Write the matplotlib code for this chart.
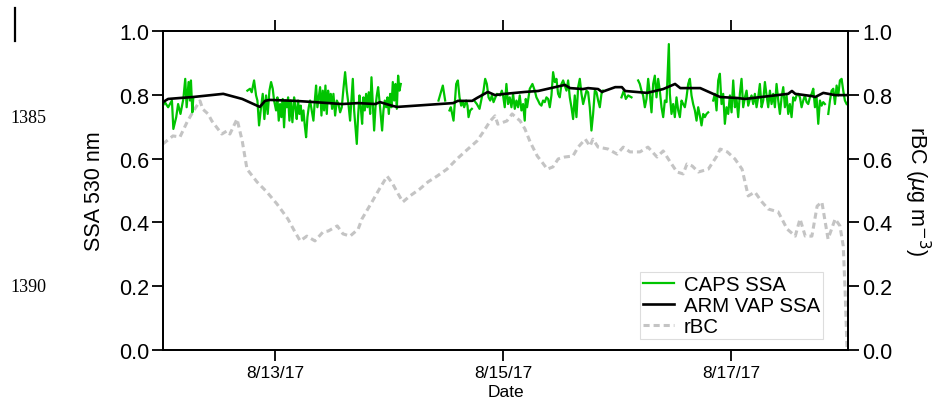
import numpy as np
import pandas as pd
import matplotlib
matplotlib.use('Agg')
import matplotlib.pyplot as plt
from matplotlib.lines import Line2D
from matplotlib.ticker import FuncFormatter, FixedLocator
import matplotlib.dates as mdates

# hours since 2017-08-12 00:00
# rBC (ug m-3), right axis
rbc_h = [0.4, 2.5, 4.0, 5.5, 6.7, 8.2, 8.8, 9.9, 10.7, 12.8, 13.9, 14.5, 16.0, 17.1, 18.1,
         20.2, 22.3, 24.4, 26.7, 28.2, 29.3, 30.7, 32.4, 34.1, 35.2, 37.1, 38.3, 39.8, 41.5,
         42.3, 44.4, 45.7, 47.6, 48.8, 49.7, 50.9, 52.4, 54.5, 56.2, 58.1, 60.2, 62.3, 64.6,
         66.5, 67.8, 69.3, 70.3, 70.9, 72.8, 73.9, 75.6, 76.6, 77.7, 79.2, 80.2, 81.3, 82.5,
         83.6, 85.0, 86.7, 87.8, 89.3, 90.3, 90.9, 92.0, 94.1, 96.0, 97.3, 98.7, 100.8, 102.5,
         104.4, 105.7, 107.2, 108.6, 109.9, 110.7, 111.8, 113.1, 115.2, 117.0, 117.7, 119.2,
         120.8, 122.3, 123.6, 125.0, 126.5, 127.8, 129.9, 131.8, 133.5, 134.5, 135.6, 137.0,
         138.1, 139.1, 140.4, 141.9, 142.9, 143.6, 144.0, 144.4]
rbc_v = [0.646, 0.671, 0.668, 0.715, 0.746, 0.781, 0.755, 0.740, 0.718, 0.677, 0.687, 0.677,
         0.724, 0.655, 0.567, 0.527, 0.495, 0.458, 0.411, 0.370, 0.342, 0.357, 0.342, 0.370,
         0.373, 0.389, 0.364, 0.357, 0.379, 0.411, 0.464, 0.498, 0.545, 0.520, 0.495, 0.464,
         0.483, 0.505, 0.527, 0.545, 0.567, 0.599, 0.630, 0.655, 0.683, 0.718, 0.734, 0.708,
         0.718, 0.740, 0.718, 0.693, 0.652, 0.608, 0.589, 0.567, 0.574, 0.599, 0.605, 0.608,
         0.636, 0.661, 0.639, 0.661, 0.636, 0.630, 0.614, 0.636, 0.621, 0.621, 0.636, 0.605,
         0.624, 0.589, 0.558, 0.552, 0.583, 0.577, 0.558, 0.567, 0.608, 0.630, 0.621, 0.599,
         0.567, 0.483, 0.495, 0.464, 0.442, 0.433, 0.379, 0.357, 0.411, 0.357, 0.357, 0.451,
         0.464, 0.348, 0.411, 0.389, 0.326, 0.182, 0.0]

# ARM VAP SSA
arm_h = [0.4, 1.5, 4.0, 6.7, 13.1, 17.1, 20.8, 21.9, 22.9, 28.2, 32.4, 38.1, 41.5, 45.1,
         46.1, 48.8, 49.7, 61.5, 62.5, 65.5, 66.5, 68.8, 70.3, 72.4, 76.6, 79.4, 85.0, 86.1,
         88.8, 89.9, 92.0, 92.8, 95.6, 97.0, 97.7, 102.3, 105.7, 108.2, 109.3, 113.5, 117.7,
         121.3, 122.9, 132.0, 132.8, 133.5, 137.0, 137.7, 139.4, 141.9, 144.6]
arm_v = [0.777, 0.787, 0.790, 0.793, 0.803, 0.787, 0.762, 0.781, 0.784, 0.781, 0.777, 0.771,
         0.774, 0.771, 0.777, 0.765, 0.762, 0.774, 0.781, 0.781, 0.790, 0.809, 0.799, 0.803,
         0.809, 0.812, 0.831, 0.821, 0.818, 0.821, 0.818, 0.809, 0.824, 0.824, 0.812, 0.806,
         0.818, 0.834, 0.821, 0.821, 0.793, 0.790, 0.787, 0.803, 0.812, 0.803, 0.796, 0.793,
         0.806, 0.799, 0.799]

# CAPS SSA, gaps as nan
caps_h = [0.4, 0.8, 1.5, 2.3, 2.6, 3.2, 3.6, 4.1, 4.7, 5.1, 5.4, 5.8, 6.1, 6.3, 6.6, 6.8,
          np.nan,
          18.18, 18.74, 19.09, 19.59, 20.01, 20.29, 20.64, 21.06, 21.41, 21.76, 22.11, 22.46,
          22.82, 23.17, 23.52, 23.80, 24.22, 24.50, 24.78, 25.06, 25.34, 25.62, 25.90, 26.18,
          26.47, 26.75, 27.03, 27.31, 27.66, 28.01, 28.29, 28.57, 28.85, 29.13, 29.41, 29.69,
          29.98, 30.26, 30.54, 30.82, 31.10, 31.38, 31.73, 32.08, 32.43, 32.64, 32.92, 33.21,
          33.49, 33.77, 34.05, 34.33, 34.61, 34.89, 35.17, 35.45, 35.73, 36.01, 36.29, 36.65,
          37.00, 37.35, 37.70, 38.05, 38.40, 38.75, 39.10, 39.45, 39.80, 40.08, 40.37, 40.65,
          40.93, 41.21, 41.49, 41.77, 42.05, 42.33, 42.61, 42.89, 43.17, 43.45, 43.73, 44.02,
          44.30, 44.58, 44.86, 45.14, 45.42, 45.70, 45.98, 46.26, 46.54, 46.82, 47.10, 47.39,
          47.67, 47.95, 48.23, 48.51, 48.79, 49.07, 49.35, 49.63, 49.91, 50.19, 50.47,
          np.nan,
          58.41, 58.90, 59.32, 59.81,
          np.nan,
          60.72, 61.00, 61.57, 62.13, 62.48, 62.83, 63.18, 63.53, 63.81, 64.23, 64.51, 64.73,
          65.08, 65.43,
          np.nan,
          65.92, 66.48, 67.04, 67.53, 67.88, 68.23, 68.58, 68.94, 69.29, 69.64, 69.99, 70.69,
          71.39, 71.74, 72.00, 72.35, 72.70, 73.05, 73.40, 73.76, 74.11, 74.46, 74.81, 75.16,
          75.51, 75.86, 76.21, 76.56, 76.77, 77.05, 77.62, 78.18, 78.67, 79.02, 79.37, 79.72,
          80.07, 80.42, 80.78, 81.13, 81.48, 81.83, 82.18, 82.53, 82.88, 83.23, 83.58, 83.93,
          84.29, 84.64, 84.99, 85.34, 85.69, 86.04, 86.39, 86.74, 87.09, 87.44, 87.80, 88.15,
          88.50, 88.85, 89.20, 89.55, 89.90, 90.25, 90.60, 90.95, 91.31, 91.66, 92.01, 92.36,
          92.71, 93.06,
          np.nan,
          96.92, 97.41, 97.83, 98.33, 99.03,
          np.nan,
          100.43, 100.78, 101.13, 101.48, 101.84, 102.19, 102.54, 102.89, 103.24, 103.59,
          103.94, 104.29, 104.64, 104.99, 105.35, 105.70, 106.05, 106.40, 106.89, 107.10,
          107.45, 107.80, 108.15, 108.50, 108.86, 109.21, 109.56, 109.91, 110.26, 110.61,
          110.96, 111.31, 111.66, 112.01, 112.37, 112.72, 113.07, 113.42, 113.77, 114.12,
          114.47, 114.82, 115.17,
          np.nan,
          116.23, 116.58, 116.93, 117.28, 117.63, 117.98, 118.33, 118.68, 119.03, 119.39,
          119.74, 120.09, 120.44, 120.79, 121.14, 121.49, 121.84, 122.19, 122.54, 122.90,
          123.25, 123.60, 123.95, 124.30, 124.65, 125.00, 125.35, 125.70, 126.05, 126.41,
          126.76, 127.11, 127.46, 127.81, 128.16, 128.51, 128.86, 129.21, 129.56, 129.92,
          130.27, 130.62, 130.97, 131.32, 131.67, 132.02, 132.37, 132.72, 133.07, 133.43,
          133.78, 134.13, 134.48, 134.83, 135.18, 135.53, 135.88, 136.23, 136.58, 136.94,
          137.29, 137.64, 137.99, 138.34, 138.69, 139.04, 139.39, 139.74,
          np.nan,
          140.45, 140.80, 141.15, 141.50, 141.85, 142.20, 142.55, 142.90, 143.25, 143.60,
          143.95, 144.31]
caps_v = [0.766, 0.777, 0.761, 0.782, 0.693, 0.730, 0.771, 0.740, 0.787, 0.850, 0.761, 0.840,
          0.782, 0.845, 0.745, 0.792,
          np.nan,
          0.813, 0.819, 0.808, 0.845, 0.798, 0.782, 0.704, 0.761, 0.803, 0.724, 0.798, 0.740,
          0.813, 0.840, 0.819, 0.782, 0.751, 0.792, 0.719, 0.771, 0.730, 0.787, 0.698, 0.782,
          0.761, 0.792, 0.719, 0.782, 0.714, 0.792, 0.761, 0.724, 0.782, 0.740, 0.766, 0.719,
          0.751, 0.704, 0.667, 0.730, 0.761, 0.782, 0.751, 0.719, 0.792, 0.829, 0.761, 0.792,
          0.824, 0.735, 0.813, 0.751, 0.829, 0.740, 0.813, 0.777, 0.803, 0.756, 0.803, 0.735,
          0.782, 0.771, 0.745, 0.761, 0.819, 0.871, 0.813, 0.771, 0.719, 0.782, 0.850, 0.751,
          0.698, 0.646, 0.735, 0.798, 0.761, 0.709, 0.792, 0.751, 0.803, 0.761, 0.808, 0.740,
          0.855, 0.771, 0.688, 0.761, 0.798, 0.824, 0.782, 0.735, 0.688, 0.751, 0.782, 0.761,
          0.792, 0.740, 0.803, 0.761, 0.840, 0.782, 0.834, 0.756, 0.860, 0.813, 0.834,
          np.nan,
          0.782, 0.808, 0.829, 0.782,
          np.nan,
          0.751, 0.761, 0.719, 0.834, 0.845, 0.792, 0.766, 0.777, 0.761, 0.782, 0.766, 0.730,
          0.751, 0.756,
          np.nan,
          0.782, 0.771, 0.756, 0.792, 0.813, 0.850, 0.834, 0.792, 0.782, 0.798, 0.777, 0.803,
          0.798, 0.813, 0.798, 0.761, 0.834, 0.771, 0.792, 0.761, 0.803, 0.756, 0.782, 0.761,
          0.798, 0.751, 0.771, 0.719, 0.787, 0.761, 0.819, 0.834, 0.813, 0.792, 0.782, 0.771,
          0.766, 0.782, 0.777, 0.792, 0.787, 0.761, 0.798, 0.871, 0.840, 0.850, 0.803, 0.792,
          0.834, 0.845, 0.829, 0.813, 0.845, 0.792, 0.761, 0.724, 0.798, 0.730, 0.824, 0.850,
          0.803, 0.771, 0.792, 0.813, 0.808, 0.761, 0.688, 0.740, 0.813, 0.808, 0.782, 0.761,
          0.803, 0.813,
          np.nan,
          0.792, 0.813, 0.787, 0.798, 0.792,
          np.nan,
          0.845, 0.834, 0.813, 0.798, 0.761, 0.787, 0.850, 0.803, 0.745, 0.834,
          0.860, 0.792, 0.850, 0.813, 0.761, 0.730, 0.782, 0.777, 0.959, 0.803,
          0.740, 0.771, 0.730, 0.792, 0.751, 0.730, 0.782, 0.771, 0.761, 0.792,
          0.834, 0.850, 0.798, 0.771, 0.751, 0.719, 0.761, 0.735, 0.704, 0.740,
          0.730, 0.740, 0.745,
          np.nan,
          0.782, 0.803, 0.751, 0.845, 0.866, 0.771, 0.803, 0.709, 0.761, 0.740,
          0.798, 0.745, 0.845, 0.761, 0.787, 0.730, 0.803, 0.850, 0.761, 0.792,
          0.813, 0.766, 0.787, 0.798, 0.771, 0.803, 0.761, 0.792, 0.834, 0.761,
          0.782, 0.840, 0.798, 0.761, 0.813, 0.771, 0.803, 0.761, 0.834, 0.782,
          0.740, 0.792, 0.824, 0.761, 0.798, 0.740, 0.771, 0.730, 0.792, 0.782,
          0.798, 0.803, 0.792, 0.761, 0.782, 0.798, 0.777, 0.771, 0.792, 0.803,
          0.819, 0.761, 0.792, 0.709, 0.782, 0.766, 0.777, 0.771,
          np.nan,
          0.740, 0.782, 0.813, 0.819, 0.771, 0.829, 0.798, 0.845, 0.850, 0.813,
          0.782, 0.771]

date_ticks = ['2017-08-13', '2017-08-15', '2017-08-17']
y_ticks = [0.0, 0.2, 0.4, 0.6, 0.8, 1.0]

t0 = pd.Timestamp('2017-08-12')
def to_time(hours):
    return t0 + pd.to_timedelta(np.array(hours, dtype=float), unit='h')

plt.rcParams['font.family'] = ['Liberation Sans', 'DejaVu Sans']

fig = plt.figure(figsize=(9.35, 4.02), dpi=100)
ax = fig.add_axes([163/935, 51/402, 685/935, 319/402])
ax2 = ax.twinx()

# rBC behind the SSA lines
ax2.plot(to_time(rbc_h), rbc_v, color='#c4c4c4', lw=2.2, ls=(0, (2.0, 1.3)))
ax.set_zorder(ax2.get_zorder() + 1)
ax.patch.set_visible(False)

ax.plot(to_time(caps_h), caps_v, color='#00c400', lw=1.6)
ax.plot(to_time(arm_h), arm_v, color='black', lw=1.9)

xmin = t0 + pd.Timedelta(hours=0.42)
xmax = t0 + pd.Timedelta(hours=144.6)
ax.set_xlim(xmin, xmax)
ax.set_ylim(0, 1)
ax2.set_ylim(0, 1)

ax.xaxis.set_major_locator(FixedLocator([mdates.date2num(pd.Timestamp(d)) for d in date_ticks]))
ax.xaxis.set_major_formatter(FuncFormatter(
    lambda x, pos: (lambda d: f'{d.month}/{d.day}/{d:%y}')(mdates.num2date(x))))
for a in (ax, ax2):
    a.set_yticks(y_ticks)
    a.yaxis.set_major_formatter(FuncFormatter(lambda v, pos: f'{v:.1f}'))
    for s in a.spines.values():
        s.set_linewidth(1.3)

ax.tick_params(axis='x', direction='out', length=8, width=1.3, labelsize=12.5, top=True, pad=3)
ax.tick_params(axis='y', direction='out', length=8, width=1.3, labelsize=15.5, pad=2)
ax2.tick_params(axis='y', direction='out', length=8, width=1.3, labelsize=15.5, pad=2)

ax.set_xlabel('Date', fontsize=12.5, labelpad=3)
ax.set_ylabel('SSA 530 nm', fontsize=15.5, labelpad=10)
ax2.set_ylabel('rBC ($\\mu$g m$^{-3}$)', fontsize=15.5, rotation=270, labelpad=29)

handles = [Line2D([], [], color='#00c400', lw=1.6),
           Line2D([], [], color='black', lw=1.9),
           Line2D([], [], color='#c4c4c4', lw=2.2, ls=(0, (2.0, 1.3)))]
leg = ax.legend(handles, ['CAPS SSA', 'ARM VAP SSA', 'rBC'], loc='lower right',
                bbox_to_anchor=(0.9635, 0.0345), borderaxespad=0, fontsize=14.7,
                handlelength=1.55, handletextpad=0.45, labelspacing=0.1,
                borderpad=0.15, fancybox=False, framealpha=1)
leg.get_frame().set_edgecolor('#dddddd')
leg.get_frame().set_linewidth(0.8)

# page margin marks from the manuscript
fig.text(28/935, 1 - 119/402, '1385', family='Liberation Serif', fontsize=13,
         ha='center', va='center')
fig.text(28/935, 1 - 287/402, '1390', family='Liberation Serif', fontsize=13,
         ha='center', va='center')
fig.add_artist(Line2D([15/935, 15/935], [1 - 9/402, 1 - 42/402], color='black', lw=1.6))

fig.savefig('out.png', dpi=100)
